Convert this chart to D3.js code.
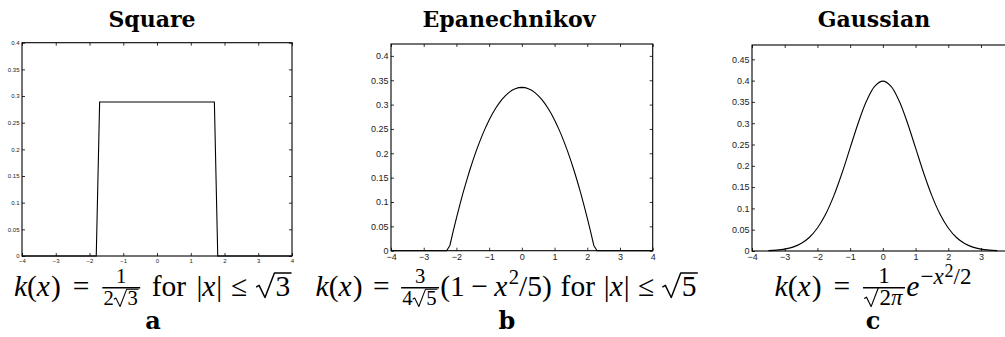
<!DOCTYPE html>
<html>
<head>
<meta charset="utf-8">
<script src="https://cdn.jsdelivr.net/npm/d3@7"></script>
<style>
  html, body { margin: 0; padding: 0; background: #fff; }
  svg { display: block; }
  .tick text { fill: #222; font-family: "Liberation Sans", Arial, sans-serif; }
</style>
</head>
<body>
<svg id="fig" width="1005" height="337"></svg>
<script>
// ---- kernel data (x positions and densities) ----
const squareX = [-4, -1.8, -1.7, 1.7, 1.8, 4];
const squareY = [0, 0, 0.2887, 0.2887, 0, 0];

const epanX = [-4, -2.3, -2.2, -2.1, -2.0, -1.9, -1.8, -1.7, -1.6, -1.5, -1.4, -1.3, -1.2,
  -1.1, -1.0, -0.9, -0.8, -0.7, -0.6, -0.5, -0.4, -0.3, -0.2, -0.1, 0,
  0.1, 0.2, 0.3, 0.4, 0.5, 0.6, 0.7, 0.8, 0.9, 1.0, 1.1, 1.2, 1.3, 1.4, 1.5,
  1.6, 1.7, 1.8, 1.9, 2.0, 2.1, 2.2, 2.3, 4];
const epanY = [0, 0, 0.0107, 0.0396, 0.0671, 0.0932, 0.1181, 0.1415, 0.1637, 0.1845, 0.2039, 0.2220, 0.2388,
  0.2542, 0.2683, 0.2811, 0.2925, 0.3025, 0.3113, 0.3186, 0.3247, 0.3294, 0.3327, 0.3348, 0.3354,
  0.3348, 0.3327, 0.3294, 0.3247, 0.3186, 0.3113, 0.3025, 0.2925, 0.2811, 0.2683, 0.2542, 0.2388, 0.2220, 0.2039, 0.1845,
  0.1637, 0.1415, 0.1181, 0.0932, 0.0671, 0.0396, 0.0107, 0, 0];

const gaussX = [-3.5, -3.25, -3, -2.75, -2.5, -2.25, -2, -1.75, -1.5, -1.25, -1, -0.75, -0.5, -0.25, 0,
  0.25, 0.5, 0.75, 1, 1.25, 1.5, 1.75, 2, 2.25, 2.5, 2.75, 3, 3.25, 3.5];
const gaussY = [0.0009, 0.0020, 0.0044, 0.0091, 0.0175, 0.0317, 0.0540, 0.0863, 0.1295, 0.1826, 0.2420, 0.3011, 0.3521, 0.3867, 0.3989,
  0.3867, 0.3521, 0.3011, 0.2420, 0.1826, 0.1295, 0.0863, 0.0540, 0.0317, 0.0175, 0.0091, 0.0044, 0.0020, 0.0009];

// ---- tick values ----
const xTicks = [-4, -3, -2, -1, 0, 1, 2, 3, 4];
const yTicksA = [0, 0.05, 0.1, 0.15, 0.2, 0.25, 0.3, 0.35, 0.4];
const yTicksB = [0, 0.05, 0.1, 0.15, 0.2, 0.25, 0.3, 0.35, 0.4];
const yTicksC = [0, 0.05, 0.1, 0.15, 0.2, 0.25, 0.3, 0.35, 0.4, 0.45];

const titles = ["Square", "Epanechnikov", "Gaussian"];
const letters = ["a", "b", "c"];

const BOLD_SERIF = "'DejaVu Serif', 'Liberation Serif', serif";
const MATH_SERIF = "'Liberation Serif', 'Times New Roman', serif";

const svg = d3.select("#fig");
svg.append("rect").attr("width", 1005).attr("height", 337).attr("fill", "#fff");

const fmt = d => String(+d.toFixed(2)).replace("-", "\u2212");

const panels = [
  { x: squareX, y: squareY, yTicks: yTicksA, yMax: 0.4, left: 22, right: 292, top: 42.7, bottom: 256,
    font: 6, curve: d3.curveLinear, cx: 152, fx: 153 },
  { x: epanX, y: epanY, yTicks: yTicksB, yMax: 0.4244, left: 391, right: 652.7, top: 44, bottom: 250.7,
    font: 9, curve: d3.curveLinear, cx: 509, fx: 507 },
  { x: gaussX, y: gaussY, yTicks: yTicksC, yMax: 0.4836, left: 752, right: 1013.7, top: 45, bottom: 251,
    font: 9, curve: d3.curveCatmullRom, cx: 874, fx: 873 }
];

panels.forEach((p, i) => {
  const xs = d3.scaleLinear().domain([-4, 4]).range([p.left, p.right]);
  const ys = d3.scaleLinear().domain([0, p.yMax]).range([p.bottom, p.top]);
  const g = svg.append("g");
  const shownX = xTicks.filter(t => xs(t) <= 1005);

  const style = sel => {
    sel.select(".domain").remove();
    sel.selectAll(".tick line").attr("stroke", "#000").attr("stroke-width", 0.8);
    sel.selectAll(".tick text").attr("font-size", p.font);
  };

  g.append("g").attr("transform", `translate(0,${p.bottom})`)
    .call(d3.axisBottom(xs).tickValues(shownX).tickFormat(fmt).tickSize(-3).tickPadding(2.5)).call(style);
  g.append("g").attr("transform", `translate(0,${p.top})`)
    .call(d3.axisTop(xs).tickValues(shownX).tickFormat("").tickSize(-3)).call(style);
  g.append("g").attr("transform", `translate(${p.left},0)`)
    .call(d3.axisLeft(ys).tickValues(p.yTicks).tickFormat(fmt).tickSize(-3).tickPadding(2.5)).call(style);
  g.append("g").attr("transform", `translate(${p.right},0)`)
    .call(d3.axisRight(ys).tickValues(p.yTicks).tickFormat("").tickSize(-3)).call(style);

  // plot box
  g.append("rect").attr("x", p.left).attr("y", p.top)
    .attr("width", p.right - p.left).attr("height", p.bottom - p.top)
    .attr("fill", "none").attr("stroke", "#000").attr("stroke-width", 1.1);

  const pts = p.x.map((v, k) => [v, p.y[k]]);
  g.append("path").datum(pts)
    .attr("d", d3.line().x(d => xs(d[0])).y(d => ys(d[1])).curve(p.curve))
    .attr("fill", "none").attr("stroke", "#000").attr("stroke-width", 1.1);

  // title
  svg.append("text").attr("x", p.cx).attr("y", 27).attr("text-anchor", "middle")
    .attr("font-family", BOLD_SERIF).attr("font-weight", "bold")
    .attr("font-size", 22).text(titles[i]);

  // sub-figure letter
  svg.append("text").attr("x", p.fx).attr("y", 329).attr("text-anchor", "middle")
    .attr("font-family", BOLD_SERIF).attr("font-weight", "bold")
    .attr("font-size", 24).text(letters[i]);
});

// ---- small math typesetter: text runs, fractions, radicals, superscripts ----
function typeset(g, items, x, y, s, opt) {
  items.forEach(it => {
    if (it.gap != null) { x += it.gap * s; return; }
    if (it.t != null) {
      const n = g.append("text").attr("x", x).attr("y", y)
        .attr("font-family", MATH_SERIF).attr("font-size", s).attr("fill", "#000")
        .attr("font-style", it.i ? "italic" : "normal").text(it.t);
      x += n.node().getComputedTextLength();
      return;
    }
    if (it.sup) {
      const raise = (opt.nested ? 0.3 : 0.42) * s;
      x = typeset(g, it.sup, x + 0.04 * s, y - raise, s * opt.sup, Object.assign({}, opt, { nested: true }));
      return;
    }
    if (it.sqrt) {
      const rw = 0.62 * s;
      const x1 = typeset(g, it.sqrt, x + rw + 0.04 * s, y, s, opt);
      const top = y - 0.78 * s;
      g.append("path")
        .attr("d", `M${x},${y - 0.3 * s} L${x + 0.1 * s},${y - 0.36 * s} L${x + 0.3 * s},${y + 0.05 * s} L${x + rw},${top} L${x1 + 0.04 * s},${top}`)
        .attr("fill", "none").attr("stroke", "#000").attr("stroke-width", 0.05 * s)
        .attr("stroke-linejoin", "round");
      x = x1 + 0.06 * s;
      return;
    }
    if (it.frac) {
      const fs = s * opt.frac;
      const gn = g.append("g"), gd = g.append("g");
      const wn = typeset(gn, it.frac[0], 0, 0, fs, opt);
      const wd = typeset(gd, it.frac[1], 0, 0, fs, opt);
      const w = Math.max(wn, wd) + 0.16 * s;
      const axis = y - 0.28 * s;
      gn.attr("transform", `translate(${x + (w - wn) / 2},${axis - 0.15 * s})`);
      gd.attr("transform", `translate(${x + (w - wd) / 2},${axis + 0.6 * s})`);
      g.append("line").attr("x1", x + 0.04 * s).attr("x2", x + w - 0.04 * s)
        .attr("y1", axis).attr("y2", axis).attr("stroke", "#000").attr("stroke-width", 0.05 * s);
      x += w;
      return;
    }
  });
  return x;
}

const I = t => ({ t, i: true });
const R = t => ({ t });
const G = gap => ({ gap });
const lhs = eq => [I("k"), R("("), I("x"), G(0.04), R(")"), G(eq), R("="), G(eq)];

const formulas = [
  lhs(0.4).concat([{ frac: [[R("1")], [R("2"), { sqrt: [R("3")] }]] }, G(0.35), R("for"), G(0.35),
    R("|"), I("x"), G(0.03), R("|"), G(0.3), R("\u2264"), G(0.3), { sqrt: [R("3")] }]),
  lhs(0.35).concat([{ frac: [[R("3")], [R("4"), { sqrt: [R("5")] }]] }, R("(1"), G(0.22), R("\u2212"), G(0.22),
    I("x"), { sup: [R("2")] }, R("/5)"), G(0.3), R("for"), G(0.3),
    R("|"), I("x"), G(0.03), R("|"), G(0.28), R("\u2264"), G(0.28), { sqrt: [R("5")] }]),
  lhs(0.4).concat([{ frac: [[R("1")], [{ sqrt: [R("2"), I("\u03c0")] }]] }, I("e"),
    { sup: [R("\u2212"), I("x"), { sup: [R("2")] }, R("/2")] }])
];
const formulaOpts = [
  { frac: 0.7, sup: 0.7 },
  { frac: 0.7, sup: 0.7 },
  { frac: 0.78, sup: 0.78 }
];

formulas.forEach((f, i) => {
  const g = svg.append("g");
  const w = typeset(g, f, 0, 0, 29.5, formulaOpts[i]);
  g.attr("transform", `translate(${panels[i].fx - w / 2},296)`);
});
</script>
</body>
</html>
